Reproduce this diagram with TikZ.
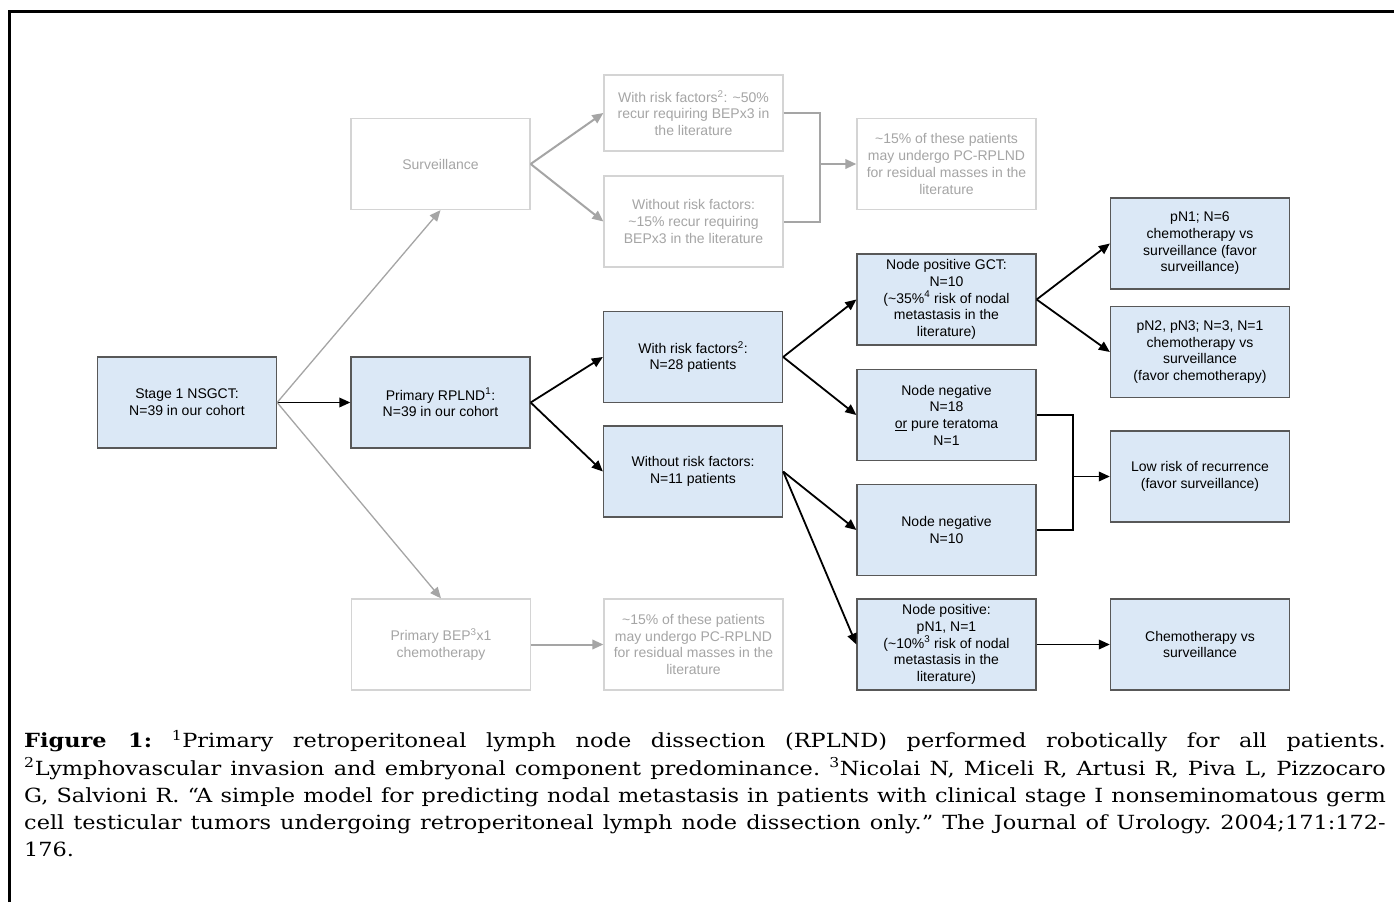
\documentclass[tikz,border=0pt]{standalone}
\usepackage{fontspec}
\usepackage{graphicx}
\setmainfont{Liberation Sans}
\newfontfamily\capfont{DejaVu Serif}
\usetikzlibrary{arrows.meta,positioning}
\definecolor{boxblue}{RGB}{219,232,246}
\definecolor{boxedge}{RGB}{88,88,88}
\definecolor{fadetext}{RGB}{165,165,165}
\definecolor{fadeedge}{RGB}{212,212,212}
\definecolor{fadeline}{RGB}{165,165,165}

\tikzset{
  bluebox/.style={draw=boxedge,fill=boxblue,line width=1.3pt,minimum width=179pt,
    minimum height=91pt,align=center,inner sep=0pt,font=\fontsize{14}{16.7}\selectfont},
  fadebox/.style={bluebox,draw=fadeedge,fill=white,text=fadetext},
  link/.style={-{Triangle[length=11pt,width=9.5pt]},line width=1.8pt},
  fadelink/.style={link,draw=fadeline,line width=2pt},
  fadethin/.style={link,draw=fadeline,line width=1.3pt}
}

\begin{document}
\begin{tikzpicture}[x=1pt,y=-1pt]
        \useasboundingbox (0,0) rectangle (1394,902);
        \fill[white] (0,0) rectangle (1394,902);
        \draw[line width=3pt] (9,902) -- (9,11) -- (1394,11);

        % main path
        \node[bluebox] (stage) at (187,402.5) {Stage 1 NSGCT:\\N=39 in our cohort};
        \node[bluebox] (rplnd) at (440.5,402.5) {Primary RPLND\textsuperscript{1}:\\N=39 in our cohort};
        \node[bluebox] (with) at (693,357) {With risk factors\textsuperscript{2}:\\N=28 patients};
        \node[bluebox] (without) at (693,471.5) {Without risk factors:\\N=11 patients};
        \node[bluebox] (gct) at (946.5,299.5) {Node positive GCT:\\N=10\\(\textasciitilde35\%\textsuperscript{4} risk of nodal\\metastasis in the\\literature)};
        \node[bluebox] (neg18) at (946.5,415) {Node negative\\N=18\\\underline{or} pure teratoma\\N=1};
        \node[bluebox] (neg10) at (946.5,530) {Node negative\\N=10};
        \node[bluebox] (pos) at (946.5,644.5) {Node positive:\\pN1, N=1\\(\textasciitilde10\%\textsuperscript{3} risk of nodal\\metastasis in the\\literature)};
        \node[bluebox] (pn1) at (1200,243.5) {pN1; N=6\\chemotherapy vs\\surveillance (favor\\surveillance)};
        \node[bluebox] (pn2) at (1200,352) {pN2, pN3; N=3, N=1\\chemotherapy vs\\surveillance\\(favor chemotherapy)};
        \node[bluebox] (low) at (1200,476.5) {Low risk of recurrence\\(favor surveillance)};
        \node[bluebox] (chemo) at (1200,644.5) {Chemotherapy vs\\surveillance};

        % faded alternatives
        \node[fadebox] (surv) at (440.5,164) {Surveillance};
        \node[fadebox] (bep) at (441,644.5) {Primary BEP\textsuperscript{3}x1\\chemotherapy};
        \node[fadebox,minimum height=76pt] (grwith) at (693.5,113) {With risk factors\textsuperscript{2}: \textasciitilde50\%\\recur requiring BEPx3 in\\the literature};
        \node[fadebox] (grwithout) at (693.5,221.5) {Without risk factors:\\\textasciitilde15\% recur requiring\\BEPx3 in the literature};
        \node[fadebox] (grpc) at (946.5,164) {\textasciitilde15\% of these patients\\may undergo PC-RPLND\\for residual masses in the\\literature};
        \node[fadebox] (bepc) at (693.5,644.5) {\textasciitilde15\% of these patients\\may undergo PC-RPLND\\for residual masses in the\\literature};

        \coordinate (joinneg) at (1073,476.5);
        \coordinate (joinfade) at (820,164);

        \draw[link] (stage) -- (rplnd);
        \draw[fadethin] (stage.east) -- (surv.south);
        \draw[fadethin] (stage.east) -- (bep.north);
        \draw[link] (rplnd.east) -- (with.west);
        \draw[link] (rplnd.east) -- (without.west);
        \draw[link] (with.east) -- (gct.west);
        \draw[link] (with.east) -- (neg18.west);
        \draw[link] (without.east) -- (neg10.west);
        \draw[link] (without.east) -- (pos.west);
        \draw[link] (gct.east) -- (pn1.west);
        \draw[link] (gct.east) -- (pn2.west);
        \draw[line width=1.8pt] (neg18.east) -| (joinneg) |- (neg10.east);
        \draw[link] (joinneg) -- (low.west);
        \draw[link] (pos) -- (chemo);

        \draw[fadelink] (surv.east) -- (grwith.west);
        \draw[fadelink] (surv.east) -- (grwithout.west);
        \draw[draw=fadeline,line width=2pt] (grwith.east) -| (joinfade) |- (grwithout.east);
        \draw[fadelink] (joinfade) -- (grpc.west);
        \draw[fadelink] (bep) -- (bepc);

        % caption (wide serif, stretched a little)
        \node[anchor=north west,inner sep=0pt] (caption) at (24,730)
          {\scalebox{1.15}[1]{\parbox{1184pt}{\capfont\fontsize{19.5}{27.2}\selectfont
          \hyphenpenalty=10000 \frenchspacing \textbf{Figure 1:} \textsuperscript{1}Primary retroperitoneal lymph node dissection (RPLND) performed robotically for all patients.\linebreak
          \textsuperscript{2}Lymphovascular invasion and embryonal component predominance. \textsuperscript{3}Nicolai N, Miceli R, Artusi R, Piva L, Pizzocaro\linebreak
          G, Salvioni R. “A simple model for predicting nodal metastasis in patients with clinical stage I nonseminomatous germ\linebreak
          cell testicular tumors undergoing retroperitoneal lymph node dissection only.” The Journal of Urology. 2004;171:172-\linebreak
          176.}}};
      \end{tikzpicture}
\end{document}
